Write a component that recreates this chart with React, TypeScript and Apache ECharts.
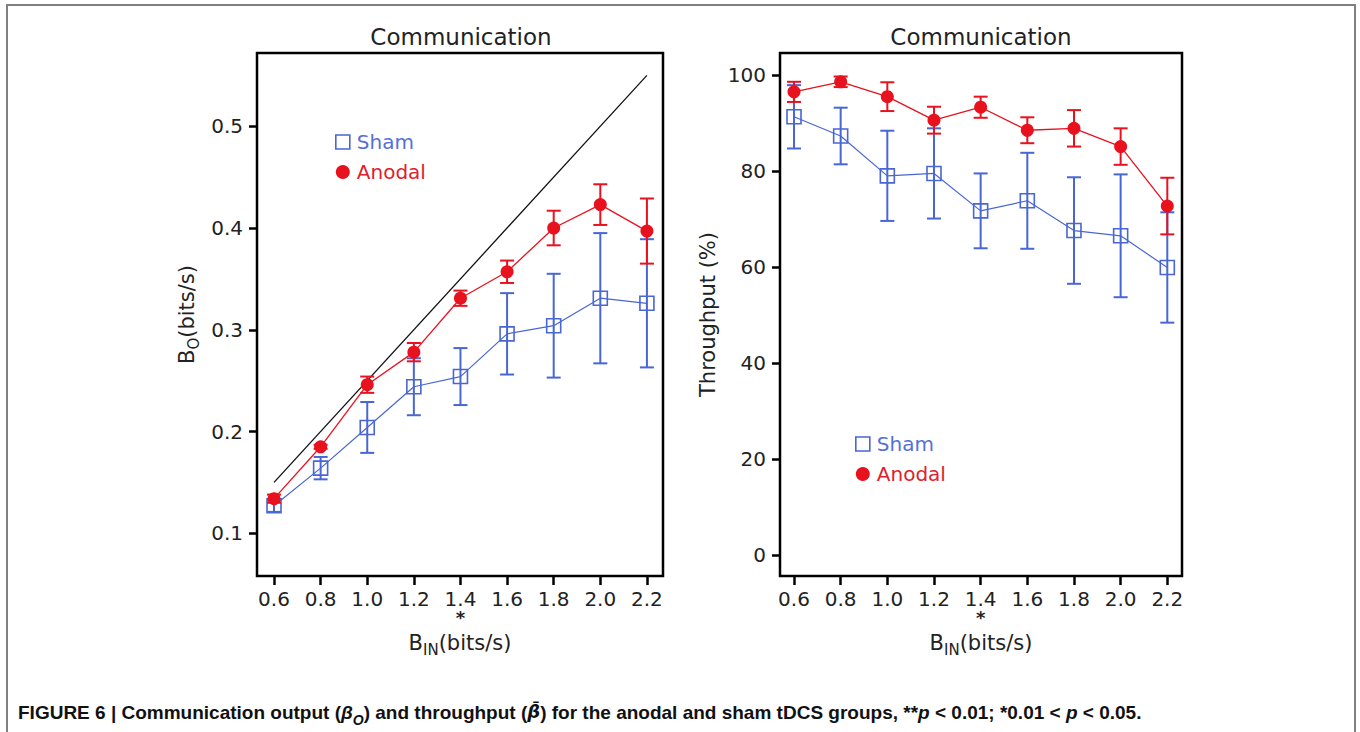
import React, { useEffect, useRef } from 'react';
import * as echarts from 'echarts';

// ---- data ----
const xValues = [0.6, 0.8, 1.0, 1.2, 1.4, 1.6, 1.8, 2.0, 2.2];
const significantX = [1.4];
const outputTicks = [0.1, 0.2, 0.3, 0.4, 0.5];
const throughputTicks = [0, 20, 40, 60, 80, 100];

// left panel: communication output (bits/s)
const shamOutput = [0.127, 0.164, 0.204, 0.244, 0.254, 0.296, 0.304, 0.331, 0.326];
const shamOutputErr = [0.006, 0.011, 0.025, 0.028, 0.028, 0.040, 0.051, 0.064, 0.063];
const anodalOutput = [0.134, 0.185, 0.246, 0.278, 0.331, 0.357, 0.400, 0.423, 0.397];
const anodalOutputErr = [0.004, 0.002, 0.008, 0.009, 0.0075, 0.011, 0.017, 0.020, 0.032];
const idealX = [0.6, 2.2];
const idealY = [0.15, 0.55];

// right panel: throughput (%)
const shamThroughput = [91.3, 87.3, 79.0, 79.5, 71.7, 73.8, 67.6, 66.5, 59.9];
const shamThroughputErr = [6.6, 5.9, 9.4, 9.4, 7.8, 10.0, 11.1, 12.8, 11.5];
const anodalThroughput = [96.5, 98.6, 95.5, 90.6, 93.3, 88.5, 88.9, 85.1, 72.7];
const anodalThroughputErr = [2.1, 1.1, 3.0, 2.8, 2.2, 2.7, 3.8, 3.8, 5.9];

const BLUE = '#4866d4';
const RED = '#e8121e';
const BLUE_TEXT = '#5570d5';
const RED_TEXT = '#e0202e';
const INK = '#222';
const FONT = '"DejaVu Sans", Verdana, sans-serif';
const CAP_FONT = '"Liberation Sans", Arial, Helvetica, sans-serif';

function errorBars(name: string, mean: number[], err: number[], color: string, idx: number, z: number) {
  return {
    type: 'custom',
    name,
    xAxisIndex: idx,
    yAxisIndex: idx,
    z,
    data: xValues.map((x, i) => [x, mean[i] - err[i], mean[i] + err[i]]),
    encode: { x: 0, y: [1, 2] },
    renderItem: (_params: any, api: any) => {
      const lo = api.coord([api.value(0), api.value(1)]);
      const hi = api.coord([api.value(0), api.value(2)]);
      const hw = 7;
      const style = { stroke: color, lineWidth: 2, fill: 'none' };
      return {
        type: 'group',
        children: [
          { type: 'line', shape: { x1: lo[0], y1: lo[1], x2: hi[0], y2: hi[1] }, style },
          { type: 'line', shape: { x1: lo[0] - hw, y1: lo[1], x2: lo[0] + hw, y2: lo[1] }, style },
          { type: 'line', shape: { x1: hi[0] - hw, y1: hi[1], x2: hi[0] + hw, y2: hi[1] }, style },
        ],
      };
    },
  };
}

function shamLine(values: number[], idx: number) {
  return {
    type: 'line',
    name: 'Sham',
    xAxisIndex: idx,
    yAxisIndex: idx,
    z: 3,
    data: xValues.map((x, i) => [x, values[i]]),
    symbol: 'rect',
    symbolSize: 14,
    lineStyle: { color: BLUE, width: 1.2 },
    itemStyle: { color: 'rgba(255,255,255,0)', borderColor: BLUE, borderWidth: 1.6 },
  };
}

function anodalLine(values: number[], idx: number) {
  return {
    type: 'line',
    name: 'Anodal',
    xAxisIndex: idx,
    yAxisIndex: idx,
    z: 5,
    data: xValues.map((x, i) => [x, values[i]]),
    symbol: 'circle',
    symbolSize: 13,
    lineStyle: { color: RED, width: 1.3 },
    itemStyle: { color: RED },
  };
}

const subRich = {
  b: { fontSize: 21, fontFamily: FONT, color: INK, verticalAlign: 'top', lineHeight: 24 },
  s: { fontSize: 15, fontFamily: FONT, color: INK, verticalAlign: 'top', lineHeight: 16, padding: [10, 0, 0, 0] },
};

function xAxisFor(idx: number, min: number, max: number) {
  return {
    type: 'value',
    gridIndex: idx,
    min,
    max,
    axisLine: { show: false, onZero: false },
    splitLine: { show: false },
    axisTick: { customValues: xValues, length: 9, lineStyle: { color: '#000', width: 2.5 } },
    axisLabel: {
      customValues: xValues,
      margin: 13,
      fontSize: 20,
      fontFamily: FONT,
      color: INK,
      lineHeight: 20,
      formatter: (v: number) => {
        const s = v.toFixed(1);
        return significantX.some((t) => Math.abs(t - v) < 1e-6) ? s + '\n{a|*}' : s;
      },
      rich: { a: { fontSize: 18, fontWeight: 'bold', lineHeight: 14, padding: [3, 0, 0, 0], fontFamily: FONT, color: INK } },
    },
    name: '{b|B}{s|IN}{b|(bits/s)}',
    nameLocation: 'middle',
    nameGap: 56,
    nameMoveOverlap: false,
    nameTextStyle: { rich: subRich },
  };
}

function legendFor(left: number, top: number) {
  return {
    orient: 'vertical', left, top, padding: 0, itemWidth: 14, itemHeight: 14, itemGap: 8,
    textStyle: { fontSize: 20, fontFamily: FONT, lineHeight: 22, padding: [0, 0, 0, 2] },
    data: [
      { name: 'Sham', icon: 'rect', itemStyle: { color: '#fff', borderColor: BLUE, borderWidth: 1.6 }, textStyle: { color: BLUE_TEXT } },
      { name: 'Anodal', icon: 'circle', itemStyle: { color: RED }, textStyle: { color: RED_TEXT } },
    ],
    selectedMode: false,
  };
}

export default function App() {
  const ref = useRef<HTMLDivElement>(null);
  useEffect(() => {
    if (!ref.current) return;
    const chart = echarts.init(ref.current, undefined, { renderer: 'svg' });
    const titleStyle = { fontSize: 23, fontWeight: 'normal', fontFamily: FONT, color: INK };
    const option: any = {
      animation: false,
      backgroundColor: '#fff',
      textStyle: { fontFamily: FONT },
      title: [
        { text: 'Communication', left: 461, top: 25, padding: 0, textAlign: 'center', textStyle: titleStyle },
        { text: 'Communication', left: 981, top: 25, padding: 0, textAlign: 'center', textStyle: titleStyle },
      ],
      legend: [legendFor(335, 131), legendFor(855, 433)],
      grid: [
        { left: 257, top: 53, width: 406, height: 523, show: true, borderColor: '#000', borderWidth: 2.5, backgroundColor: '#fff' },
        { left: 780, top: 53, width: 402, height: 523, show: true, borderColor: '#000', borderWidth: 2.5, backgroundColor: '#fff' },
      ],
      xAxis: [xAxisFor(0, 0.527, 2.269), xAxisFor(1, 0.54, 2.263)],
      yAxis: [
        {
          type: 'value', gridIndex: 0, min: 0.058, max: 0.572,
          axisLine: { show: false, onZero: false }, splitLine: { show: false },
          axisTick: { customValues: outputTicks, length: 8, lineStyle: { color: '#000', width: 2.5 } },
          axisLabel: { customValues: outputTicks, margin: 14, fontSize: 20, fontFamily: FONT, color: INK, formatter: (v: number) => v.toFixed(1) },
          name: '{b|B}{s|O}{b|(bits/s)}',
          nameLocation: 'middle',
          nameGap: 57,
          nameMoveOverlap: false,
          nameTextStyle: { rich: subRich },
        },
        {
          type: 'value', gridIndex: 1, min: -4.4, max: 104.6,
          axisLine: { show: false, onZero: false }, splitLine: { show: false },
          axisTick: { customValues: throughputTicks, length: 8, lineStyle: { color: '#000', width: 2.5 } },
          axisLabel: { customValues: throughputTicks, margin: 14, fontSize: 20, fontFamily: FONT, color: INK },
          name: 'Throughput (%)',
          nameLocation: 'middle',
          nameGap: 62,
          nameMoveOverlap: false,
          nameTextStyle: { fontSize: 21, fontFamily: FONT, color: INK },
        },
      ],
      series: [
        {
          type: 'line', name: 'Ideal', xAxisIndex: 0, yAxisIndex: 0, z: 1,
          data: idealX.map((x, i) => [x, idealY[i]]),
          symbol: 'none', lineStyle: { color: '#111', width: 1.3 },
        },
        errorBars('Sham error', shamOutput, shamOutputErr, BLUE, 0, 2),
        shamLine(shamOutput, 0),
        errorBars('Anodal error', anodalOutput, anodalOutputErr, RED, 0, 4),
        anodalLine(anodalOutput, 0),
        errorBars('Sham error', shamThroughput, shamThroughputErr, BLUE, 1, 2),
        shamLine(shamThroughput, 1),
        errorBars('Anodal error', anodalThroughput, anodalThroughputErr, RED, 1, 4),
        anodalLine(anodalThroughput, 1),
      ],
      graphic: [
        {
          type: 'rect', z: -1, silent: true,
          shape: { x: 7, y: 5, width: 1348, height: 760 },
          style: { fill: 'none', stroke: '#808080', lineWidth: 2 },
        },
        {
          type: 'text', x: 18, y: 713, silent: true,
          style: {
            text: '{t|FIGURE 6 | Communication output (}{i|β}{s|O}{t|) and throughput (}{m|β\u0304}{t|) for the anodal and sham tDCS groups, **}{i|p}{t| < 0.01; *0.01 < }{i|p}{t| < 0.05.}',
            textVerticalAlign: 'middle',
            rich: {
              t: { fontSize: 19, fontWeight: 'bold', fontFamily: CAP_FONT, fill: '#111', verticalAlign: 'top', lineHeight: 21 },
              i: { fontSize: 19, fontWeight: 'bold', fontStyle: 'italic', fontFamily: CAP_FONT, fill: '#111', verticalAlign: 'top', lineHeight: 21 },
              m: { fontSize: 18, fontWeight: 'bold', fontStyle: 'italic', fontFamily: '"DejaVu Sans", sans-serif', fill: '#111', verticalAlign: 'top', lineHeight: 21 },
              s: { fontSize: 14, fontWeight: 'bold', fontStyle: 'italic', fontFamily: CAP_FONT, fill: '#111', verticalAlign: 'top', lineHeight: 14, padding: [10, 0, 0, 0] },
            },
          },
        },
      ],
    };
    chart.setOption(option);
    return () => chart.dispose();
  }, []);
  return <div ref={ref} style={{ position: 'fixed', left: 0, top: 0, width: 1360, height: 732 }} />;
}
